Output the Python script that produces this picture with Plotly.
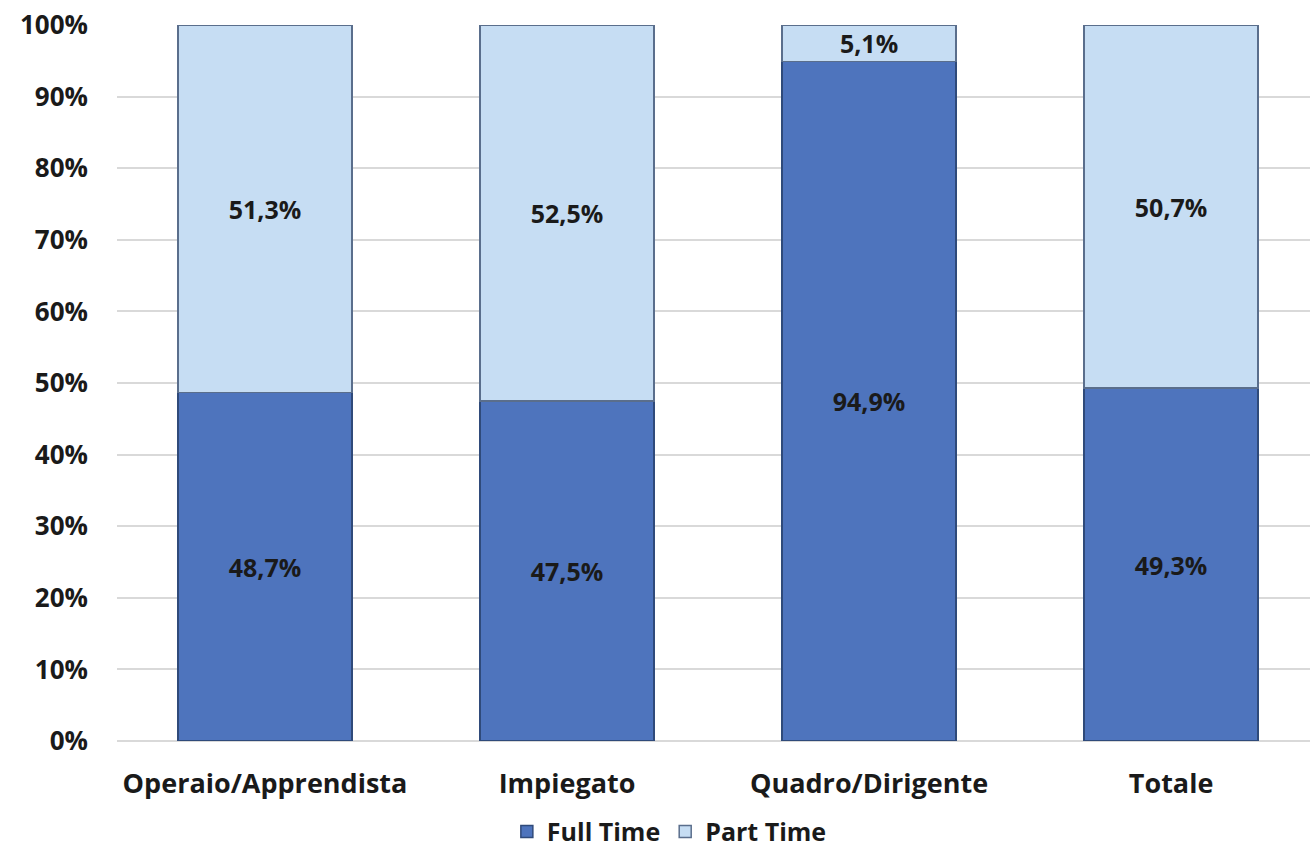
import plotly.graph_objects as go

categories = ["Operaio/Apprendista", "Impiegato", "Quadro/Dirigente", "Totale"]
full_time = [48.7, 47.5, 94.9, 49.3]
part_time = [51.3, 52.5, 5.1, 50.7]
tick_vals = [0, 10, 20, 30, 40, 50, 60, 70, 80, 90, 100]
tick_text = [f"{v}%" for v in tick_vals]

def fmt(v):
    return f"{v:.1f}".replace(".", ",") + "%"

FONT = "Open Sans"
fig = go.Figure()
fig.add_trace(go.Bar(
    name="Full Time", x=categories, y=full_time,
    marker=dict(color="#4e74bd", line=dict(color="#2f4a7a", width=1.5)),
    text=[fmt(v) for v in full_time], textposition="inside",
    insidetextanchor="middle", constraintext="none",
    textfont=dict(family=FONT, size=25, color="#1a1a1a", weight="bold"),
    width=0.575,
))
fig.add_trace(go.Bar(
    name="Part Time", x=categories, y=part_time,
    marker=dict(color="#c6ddf3", line=dict(color="#5a6e8c", width=1.5)),
    text=[fmt(v) for v in part_time], textposition="inside",
    insidetextanchor="middle", constraintext="none",
    textfont=dict(family=FONT, size=25, color="#1a1a1a", weight="bold"),
    width=0.575,
))

fig.update_layout(
    barmode="stack",
    width=1310, height=856,
    margin=dict(l=117, r=0, t=25, b=115, autoexpand=False),
    paper_bgcolor="white", plot_bgcolor="white",
    font=dict(family=FONT, size=24, color="#1a1a1a", weight="bold"),
    xaxis=dict(
        range=[-0.49, 3.46], showgrid=False, showline=False,
        tickfont=dict(family=FONT, size=27, color="#1a1a1a", weight="bold"),
        ticks="", ticklabelstandoff=24,
    ),
    yaxis=dict(
        range=[0, 100], tickvals=tick_vals, ticktext=tick_text,
        showgrid=True, gridcolor="#d9d9d9", gridwidth=1.5,
        zeroline=True, zerolinecolor="#d9d9d9", zerolinewidth=1.5,
        tickfont=dict(family=FONT, size=26, color="#1a1a1a", weight="bold"),
        ticks="", ticklabelstandoff=28,
    ),
    legend=dict(
        orientation="h", x=0.463, xanchor="center", y=-0.159, yanchor="bottom",
        traceorder="normal",
        font=dict(family=FONT, size=25, color="#1a1a1a", weight="bold"),
        itemwidth=30,
    ),
    showlegend=True,
)

fig.write_html("out.html")
